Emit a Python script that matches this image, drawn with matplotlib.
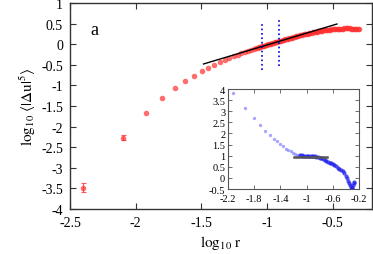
import matplotlib
matplotlib.use("Agg")
import matplotlib.pyplot as plt
from matplotlib.ticker import FuncFormatter

plt.rcParams['font.family'] = ['Liberation Serif', 'DejaVu Serif']
plt.rcParams['mathtext.fontset'] = 'stix'
plt.rcParams['axes.unicode_minus'] = False

# ---- main data: log10 r vs log10 <|du|^5> ----
logr = [-2.4, -2.099, -1.923, -1.798, -1.701, -1.622, -1.555, -1.497, -1.446, -1.4,
        -1.359, -1.321, -1.286, -1.254, -1.224, -1.196, -1.170, -1.145, -1.121, -1.099,
        -1.08, -1.07, -1.06, -1.05, -1.04, -1.03, -1.02, -1.01, -1.00, -0.99,
        -0.98, -0.97, -0.96, -0.95, -0.94, -0.93, -0.92, -0.91, -0.90, -0.89,
        -0.88, -0.87, -0.86, -0.85, -0.84, -0.83, -0.82, -0.81, -0.80, -0.79,
        -0.78, -0.77, -0.76, -0.75, -0.74, -0.73, -0.72, -0.71, -0.70, -0.69,
        -0.68, -0.67, -0.66, -0.65, -0.64, -0.63, -0.62, -0.61, -0.60, -0.59,
        -0.58, -0.57, -0.56, -0.55, -0.54, -0.53, -0.52, -0.51, -0.50, -0.49,
        -0.48, -0.47, -0.46, -0.45, -0.44, -0.43, -0.42, -0.41, -0.40, -0.39,
        -0.38, -0.37, -0.36, -0.35, -0.34, -0.33, -0.32, -0.31, -0.30]
logS5 = [-3.48, -2.27, -1.67, -1.31, -1.07, -0.89, -0.76, -0.655, -0.575, -0.50,
         -0.435, -0.38, -0.335, -0.29, -0.255, -0.22, -0.19, -0.165, -0.14, -0.115,
         -0.095, -0.085, -0.075, -0.065, -0.055, -0.045, -0.035, -0.025, -0.015, -0.005,
         0.005, 0.015, 0.025, 0.034, 0.043, 0.053, 0.062, 0.071, 0.080, 0.089,
         0.098, 0.107, 0.116, 0.125, 0.134, 0.143, 0.152, 0.161, 0.170, 0.178,
         0.187, 0.195, 0.204, 0.212, 0.220, 0.228, 0.236, 0.243, 0.251, 0.258,
         0.266, 0.273, 0.280, 0.286, 0.293, 0.300, 0.306, 0.312, 0.318, 0.323,
         0.329, 0.334, 0.339, 0.343, 0.348, 0.352, 0.356, 0.360, 0.363, 0.366,
         0.369, 0.372, 0.374, 0.376, 0.378, 0.380, 0.381, 0.382, 0.383, 0.383,
         0.383, 0.382, 0.381, 0.379, 0.377, 0.374, 0.371, 0.367, 0.362]
err_logr = [-2.4, -2.099]
err_val = [-3.48, -2.27]
err_size = [0.10, 0.06]

fit_x = [-1.483, -0.467]
fit_y = [-0.48, 0.49]
vline1_x = -1.035
vline1_y = [-0.63, 0.49]
vline2_x = -0.907
vline2_y = [-0.52, 0.59]

# ---- inset data: local slope ----
in_x_sparse = [-2.123, -1.933, -1.805, -1.718, -1.631, -1.559, -1.497, -1.446, -1.400,
               -1.354, -1.313, -1.277, -1.241, -1.205, -1.174, -1.144, -1.113]
in_y_sparse = [3.82, 3.15, 2.68, 2.37, 2.11, 1.93, 1.77, 1.65, 1.53,
               1.43, 1.32, 1.25, 1.19, 1.13, 1.08, 1.05, 1.02]
in_x_dense = [-1.10, -1.075, -1.05, -1.025, -1.00, -0.975, -0.95, -0.925, -0.90, -0.875,
              -0.85, -0.825, -0.80, -0.775, -0.75, -0.725, -0.70, -0.675, -0.65, -0.625,
              -0.60, -0.575, -0.55, -0.525, -0.50, -0.475, -0.45, -0.425, -0.40, -0.385,
              -0.37, -0.355, -0.34, -0.325, -0.31, -0.30, -0.29, -0.28, -0.27]
in_y_dense = [1.02, 1.01, 1.00, 0.99, 0.99, 0.99, 0.99, 0.985, 0.98, 0.975,
              0.96, 0.94, 0.91, 0.88, 0.84, 0.80, 0.76, 0.73, 0.69, 0.66,
              0.61, 0.56, 0.52, 0.46, 0.40, 0.34, 0.29, 0.21, 0.10, -0.02,
              -0.13, -0.22, -0.31, -0.40, -0.47, -0.44, -0.32, -0.22, -0.17]
plateau_x = [-1.19, -0.686]
plateau_y = [0.96, 0.96]

fig = plt.figure(figsize=(3.73, 2.55), dpi=100)
ax = fig.add_axes([70/373, 45/255, 302/373, 206/255])

ax.plot(logr, logS5, 'o', ms=4.0, color='#ff3030', alpha=0.7, mec='none', zorder=3)
ax.errorbar(err_logr, err_val, yerr=err_size, fmt='none', ecolor='#ff3030',
            elinewidth=0.8, capsize=1.8, capthick=0.8, alpha=0.8, zorder=3)
ax.plot(fit_x, fit_y, '-', color='black', lw=1.0, zorder=4)
ax.plot([vline1_x, vline1_x], vline1_y, ':', color='#0000dd', lw=1.2, zorder=5)
ax.plot([vline2_x, vline2_x], vline2_y, ':', color='#0000dd', lw=1.2, zorder=5)

ax.set_xlim(-2.5, -0.2)
ax.set_ylim(-4, 1)
ax.set_xticks([-2.5, -2, -1.5, -1, -0.5])
ax.set_yticks([-4, -3.5, -3, -2.5, -2, -1.5, -1, -0.5, 0, 0.5, 1])
fmt = FuncFormatter(lambda v, p: '%g' % round(v, 3))
ax.xaxis.set_major_formatter(fmt)
ax.yaxis.set_major_formatter(fmt)
ax.tick_params(direction='in', top=True, right=True, length=4, width=0.8,
               labelsize=10, pad=5, color='#333333')
for s in ax.spines.values():
    s.set_linewidth(1.0)
    s.set_color('#333333')
ax.set_xlabel(r'$\log_{10}\,\mathrm{r}$', fontsize=11, labelpad=3)
ax.set_ylabel(r'$\log_{10}\,\langle|\Delta \mathrm{u}|^5\rangle$', fontsize=11, labelpad=2)
ax.text(-2.345, 0.35, 'a', fontsize=13, ha='left', va='center')

# inset
ins = fig.add_axes([228/373, 65/255, 131/373, 100/255])
ins.plot(in_x_sparse, in_y_sparse, 'o', ms=2.4, color='#8080ff', alpha=0.7, mec='none')
ins.plot(in_x_dense, in_y_dense, 'o', ms=3.0, color='#2020ee', alpha=0.75, mec='none')
ins.plot(plateau_x, plateau_y, '-', color='#555555', lw=1.8)
ins.set_xlim(-2.2, -0.2)
ins.set_ylim(-0.5, 4)
ins.set_xticks([-2.2, -1.8, -1.4, -1, -0.6, -0.2])
ins.set_yticks([-0.5, 0, 0.5, 1, 1.5, 2, 2.5, 3, 3.5, 4])
ins.xaxis.set_major_formatter(fmt)
ins.yaxis.set_major_formatter(fmt)
ins.tick_params(direction='in', top=True, right=True, length=3, width=0.6,
                labelsize=7.5, color='#555555')
ins.tick_params(axis='x', pad=3.5)
ins.tick_params(axis='y', pad=2)
for s in ins.spines.values():
    s.set_linewidth(0.8)
    s.set_color('#555555')

fig.savefig('out.png', dpi=100)
